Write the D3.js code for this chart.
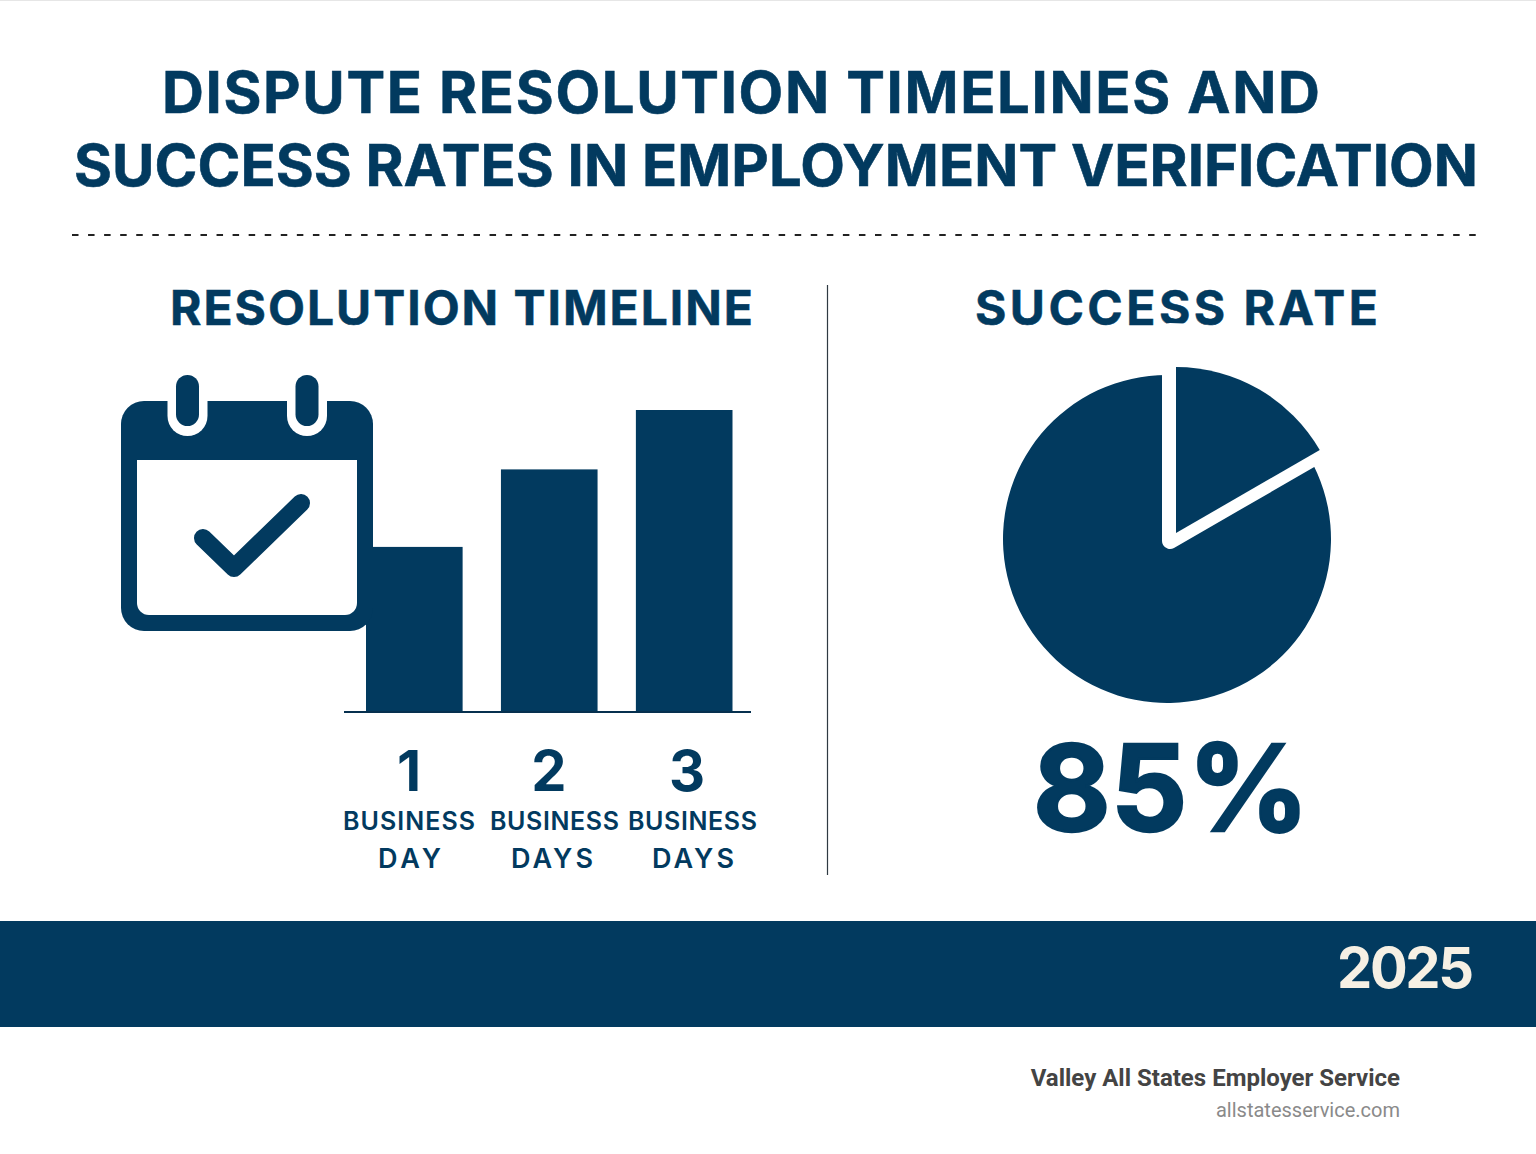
<!DOCTYPE html>
<html><head><meta charset="utf-8">
<script src="https://cdn.jsdelivr.net/npm/d3@7/dist/d3.min.js"></script>
<style>html,body{margin:0;padding:0;background:#fff}svg{display:block}text{font-family:Inter,Roboto,"Liberation Sans",sans-serif}</style>
</head><body><div id="c"></div>
<script>
const titleLines = ["DISPUTE RESOLUTION TIMELINES AND", "SUCCESS RATES IN EMPLOYMENT VERIFICATION"];
const dayNumbers = ["1", "2", "3"];
const dayUnits = ["BUSINESS", "BUSINESS", "BUSINESS"];
const dayWords = ["DAY", "DAYS", "DAYS"];
const barValues = [1.64, 2.41, 3.0];
const pieShares = [16.67, 83.33];
const headline = "85%";
const navy = "#023a5f", W = 1536, H = 1154;

const svg = d3.select("#c").append("svg").attr("width", W).attr("height", H).attr("viewBox", [0,0,W,H]);
function label(t, x, y, size, opts={}) {
  const s = svg.append("text").attr("x", x).attr("y", y).attr("font-size", size)
    .attr("font-weight", opts.weight||700).attr("fill", opts.fill||navy).attr("text-anchor", opts.anchor||"start").text(t);
  if (opts.family) s.style("font-family", opts.family);
  if (opts.len) s.attr("textLength", opts.len).attr("lengthAdjust", "spacing");
  if (opts.stroke) s.attr("stroke", opts.fill||navy).attr("stroke-width", opts.stroke);
  return s;
}
svg.append("line").attr("x1",0).attr("x2",W).attr("y1",0.5).attr("y2",0.5).attr("stroke","#e6e6e6");

label(titleLines[0], 162, 113, 58, {len:1158, stroke:.6});
label(titleLines[1], 74, 186, 58, {len:1404, stroke:.6});
svg.append("line").attr("x1",72).attr("x2",1476).attr("y1",235).attr("y2",235)
  .attr("stroke","#222").attr("stroke-width",1.8).attr("stroke-dasharray","6.5 9.56");
label("RESOLUTION TIMELINE", 170, 325, 48, {len:583, stroke:.5});
label("SUCCESS RATE", 975, 325, 48, {len:403, stroke:.5});
svg.append("line").attr("x1",827.5).attr("x2",827.5).attr("y1",285).attr("y2",875).attr("stroke","#2f3a42").attr("stroke-width",1.2);

// bars
const x = d3.scaleBand().domain(dayNumbers).range([366,732.5]).paddingInner(0.284).paddingOuter(0);
const y = d3.scaleLinear().domain([0,3]).range([712,410]);
svg.append("g").selectAll("rect").data(barValues).join("rect")
  .attr("x",(d,i)=>x(dayNumbers[i])).attr("width",x.bandwidth())
  .attr("y",d=>y(d)).attr("height",d=>y(0)-y(d)).attr("fill",navy);
svg.append("line").attr("x1",344).attr("x2",751).attr("y1",y(0)).attr("y2",y(0)).attr("stroke","#06304f").attr("stroke-width",2);

const numX = [409,549,687], unitX = [343,490,628], unitLen = [132,129,129], wordX = [378,511,652], wordLen = [63,82,82];
dayNumbers.forEach((d,i)=>{
  label(d, numX[i], 791, 56, {anchor:"middle"});
  label(dayUnits[i], unitX[i], 830, 25, {len:unitLen[i], weight:600});
  label(dayWords[i], wordX[i], 868, 27, {len:wordLen[i], weight:600});
});

// calendar icon
const cal = svg.append("g");
cal.append("rect").attr("x",121).attr("y",401).attr("width",252).attr("height",230).attr("rx",23).attr("fill",navy);
cal.append("path").attr("fill","#fff").attr("d","M137 460H357V603a12 12 0 0 1-12 12H149a12 12 0 0 1-12-12Z");
[187.5, 307].forEach(cx=>{
  cal.append("path").attr("fill","#fff").attr("d",`M${cx-20} 401V416a20 20 0 0 0 40 0V401Z`);
  cal.append("rect").attr("x",cx-11.5).attr("y",375).attr("width",23).attr("height",51).attr("rx",11.5).attr("fill",navy);
});
cal.append("path").attr("d","M203 538L234 568L301 503").attr("fill","none").attr("stroke",navy)
  .attr("stroke-width",18).attr("stroke-linecap","round").attr("stroke-linejoin","round");

// pie
const pie = d3.pie().sort(null).value(d=>d)(pieShares);
const wedge = pie[0], rest = pie[1];
svg.append("path").attr("transform","translate(1167,539)").attr("fill",navy)
  .attr("d",d3.arc().innerRadius(0).outerRadius(164)(rest));
svg.append("path").attr("transform","translate(1170,541)").attr("fill","#fff").attr("stroke","#fff")
  .attr("stroke-width",16).attr("stroke-linejoin","round")
  .attr("d",d3.arc().innerRadius(0).outerRadius(210)(wedge));
svg.append("path").attr("transform","translate(1176,533)").attr("fill",navy)
  .attr("d",d3.arc().innerRadius(0).outerRadius(166)(wedge));
label(headline, 1171, 831, 120, {anchor:"middle", stroke:2.4, weight:700});

// band + footer
svg.append("rect").attr("x",0).attr("y",921).attr("width",W).attr("height",106).attr("fill",navy);
label("2025", 1337, 988, 56, {len:137, fill:"#f6f0e4"});
label("Valley All States Employer Service", 1400, 1086, 24, {anchor:"end", fill:"#444", weight:700, family:"Roboto"});
label("allstatesservice.com", 1400, 1117, 20, {anchor:"end", fill:"#8a8a8a", weight:400, family:"Roboto"});
</script></body></html>
